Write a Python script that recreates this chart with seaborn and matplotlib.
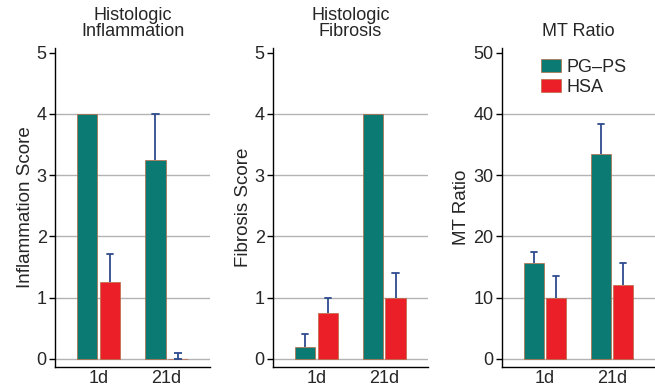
import matplotlib
matplotlib.use("Agg")
import matplotlib.pyplot as plt
import seaborn as sns
import pandas as pd

# values
days = ["1d", "21d"]
groups = ["PG\u2013PS", "HSA"]
colors = ["#0b7a73", "#ea1f27"]

inflam_mean = {"PG\u2013PS": [4.0, 3.25], "HSA": [1.25, 0.0]}
inflam_err = {"PG\u2013PS": [0.0, 0.75], "HSA": [0.47, 0.09]}
fibro_mean = {"PG\u2013PS": [0.2, 4.0], "HSA": [0.75, 1.0]}
fibro_err = {"PG\u2013PS": [0.2, 0.0], "HSA": [0.25, 0.4]}
mt_mean = {"PG\u2013PS": [15.7, 33.4], "HSA": [9.9, 12.0]}
mt_err = {"PG\u2013PS": [1.8, 4.9], "HSA": [3.6, 3.7]}

panels = [
    ("Histologic\nInflammation", "Inflammation Score", inflam_mean, inflam_err, [0, 1, 2, 3, 4, 5]),
    ("Histologic\nFibrosis", "Fibrosis Score", fibro_mean, fibro_err, [0, 1, 2, 3, 4, 5]),
    ("MT Ratio", "MT Ratio", mt_mean, mt_err, [0, 10, 20, 30, 40, 50]),
]

sns.set_style("white")
plt.rcParams["font.family"] = ["Liberation Sans", "DejaVu Sans"]

fig = plt.figure(figsize=(6.55, 3.92), dpi=100)
lefts = [0.084, 0.417, 0.766]
widths = [0.237, 0.236, 0.234]
ebc = "#2d4b8e"

for i, (title, ylab, means, errs, yticks) in enumerate(panels):
    ax = fig.add_axes([lefts[i], 0.064, widths[i], 0.814])
    rows = []
    for g in groups:
        for d, m, e in zip(days, means[g], errs[g]):
            rows.append({"day": d, "group": g, "value": m, "err": e})
    df = pd.DataFrame(rows)

    sns.barplot(data=df, x="day", y="value", hue="group", order=days,
                hue_order=groups, palette=colors, errorbar=None, width=0.66,
                gap=0.1, saturation=1, edgecolor="#b86a45", linewidth=0.5,
                ax=ax, zorder=2)

    # upper-only error bars on top of each bar
    for j, g in enumerate(groups):
        cont = ax.containers[j]
        for patch, e in zip(cont.patches, errs[g]):
            xc = patch.get_x() + patch.get_width() / 2
            h = patch.get_height()
            if e <= 0:
                continue
            if h == 0:
                ax.errorbar(xc, h, yerr=[[0], [e]], color=ebc, lw=1.3, capsize=3,
                            capthick=1.3, zorder=3)
            else:
                ax.plot([xc, xc], [h, h + e], color=ebc, lw=1.3, zorder=3,
                        solid_capstyle="butt")
                ax.plot([xc - 0.045, xc + 0.045], [h + e, h + e], color=ebc,
                        lw=1.3, zorder=3)

    top = yticks[-1]
    for t in yticks[:-1]:
        ax.axhline(t, color="#b3b3b3", lw=1.0, zorder=0)

    ax.set_ylim(-0.026 * top, 1.016 * top)
    ax.set_xlim(-0.64, 1.64)
    ax.set_yticks(yticks)
    ax.set_xlabel("")
    ax.set_ylabel(ylab, fontsize=13.5, labelpad=2)
    ax.tick_params(axis="y", length=4, width=1, color="black", labelsize=13, pad=2, left=True)
    ax.tick_params(axis="x", length=0, labelsize=13, pad=2)
    for s in ["top", "right"]:
        ax.spines[s].set_visible(False)
    for s in ["left", "bottom"]:
        ax.spines[s].set_color("black")
        ax.spines[s].set_linewidth(1.0)

    ax.text(0.5, 1.025, title, transform=ax.transAxes, ha="center", va="bottom",
            fontsize=13, linespacing=0.92)

    if i == 2:
        ax.legend(title=None, frameon=False, loc="upper left",
                  bbox_to_anchor=(0.185, 1.0), fontsize=13, handlelength=1.1,
                  handleheight=0.8, handletextpad=0.3, labelspacing=0.15,
                  borderaxespad=0.2)
    else:
        ax.get_legend().remove()

fig.savefig("out.png", dpi=100)
